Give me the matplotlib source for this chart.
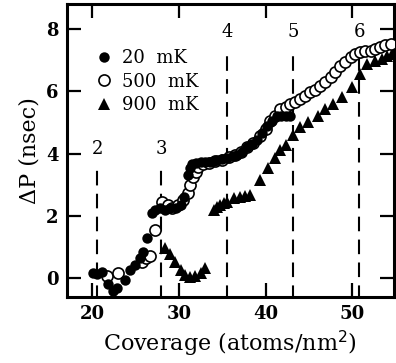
import numpy as np
import matplotlib
matplotlib.use('Agg')
import matplotlib.pyplot as plt

# 20 mK (filled circles)
x20 = [20.1, 20.6, 21.2, 21.8, 22.4, 22.9, 23.8, 24.4, 25.0, 25.5, 25.9, 26.3,
       26.9, 27.3, 27.8, 28.4, 29.0, 29.7, 30.2, 30.6, 31.0, 31.3, 31.5, 32.0,
       32.5, 33.0, 33.6, 34.0, 34.4, 35.0, 35.6, 36.2, 36.7, 37.3, 37.9, 38.4,
       39.0, 39.6, 40.2, 40.7, 41.3, 41.8, 42.3, 42.8]
y20 = [0.16, 0.13, 0.19, -0.2, -0.4, -0.3, -0.06, 0.26, 0.42, 0.65, 0.84, 1.3,
       2.1, 2.2, 2.25, 2.2, 2.25, 2.25, 2.35, 2.6, 3.3, 3.55, 3.65, 3.7,
       3.74, 3.72, 3.74, 3.76, 3.8, 3.83, 3.87, 3.92, 3.97, 4.05, 4.2, 4.3,
       4.45, 4.65, 4.87, 5.05, 5.2, 5.22, 5.2, 5.2]

# 500 mK (open circles)
x500 = [21.7, 23.0, 25.8, 26.2, 26.7, 27.3, 28.1, 28.7, 29.2, 29.9, 30.5, 31.0,
        31.3, 31.6, 32.0, 32.2, 32.8, 33.5, 34.2, 35.0, 35.8, 36.5, 37.2, 37.9,
        38.6, 39.3, 40.0, 40.5, 41.1, 41.7, 42.3, 42.8, 43.4, 44.0, 44.5, 45.1,
        45.7, 46.3, 46.9, 47.5, 48.0, 48.6, 49.2, 49.8, 50.3, 50.9, 51.5, 52.1,
        52.6, 53.2, 53.8, 54.4]
y500 = [0.06, 0.16, 0.52, 0.65, 0.7, 1.55, 2.45, 2.35, 2.25, 2.35, 2.5, 2.75,
        3.0, 3.25, 3.4, 3.58, 3.65, 3.7, 3.75, 3.8, 3.88, 3.95, 4.05, 4.2,
        4.35, 4.55, 4.8, 5.05, 5.2, 5.42, 5.5, 5.58, 5.66, 5.74, 5.85, 5.97,
        6.05, 6.16, 6.3, 6.45, 6.62, 6.8, 6.95, 7.1, 7.2, 7.26, 7.28, 7.29,
        7.36, 7.42, 7.47, 7.52]

# 900 mK (triangles)
x900 = [28.4, 29.0, 29.6, 30.2, 30.7, 31.3, 31.9, 32.5, 33.0,
        34.0, 34.4, 34.8, 35.2, 35.6, 36.3, 37.1, 37.6, 38.2, 39.4,
        40.3, 41.1, 41.7, 42.3, 43.1, 44.0, 44.9, 46.0, 46.9, 47.8, 48.8,
        50.0, 50.9, 51.7, 52.6, 53.4, 54.0, 54.6]
y900 = [0.97, 0.77, 0.52, 0.26, 0.1, 0.03, 0.06, 0.16, 0.32,
        2.2, 2.3, 2.35, 2.4, 2.45, 2.58, 2.6, 2.64, 2.68, 3.16,
        3.55, 3.87, 4.13, 4.29, 4.6, 4.84, 5.0, 5.2, 5.42, 5.58, 5.8,
        6.13, 6.55, 6.87, 6.97, 7.05, 7.13, 7.2]

# layer boundaries
layer_x = [20.6, 28.0, 35.6, 43.2, 50.8]
layer_lbl = ['2', '3', '4', '5', '6']
layer_top = [3.65, 3.65, 7.4, 7.4, 7.4]

plt.rcParams['font.family'] = 'DejaVu Serif'

fig = plt.figure(figsize=(3.96, 3.63), dpi=100)
ax = fig.add_axes([0.169, 0.182, 0.826, 0.807])

for xv, lb, top in zip(layer_x, layer_lbl, layer_top):
    ax.plot([xv, xv], [-0.7, top], color='black', lw=1.5, dashes=(7, 4))
    ax.text(xv, top + 0.5, lb, ha='center', va='center', fontsize=13)

ax.plot(x900, y900, '^', color='black', ms=8, mew=0, label='900  mK', zorder=3)
ax.plot(x500, y500, 'o', mfc='white', mec='black', ms=8, mew=1.2,
        label='500  mK', zorder=4)
ax.plot(x20, y20, 'o', color='black', ms=7.5, mew=0, label='20  mK', zorder=5)

h, l = ax.get_legend_handles_labels()
leg = ax.legend(h[::-1], l[::-1], loc='upper left', bbox_to_anchor=(0.07, 0.87),
                frameon=False, fontsize=13, handlelength=0.8, handletextpad=0.6,
                labelspacing=0.3, borderaxespad=0)

ax.set_xlim(17.1, 54.8)
ax.set_ylim(-0.6, 8.8)
ax.set_xticks([20, 30, 40, 50])
ax.set_yticks([0, 2, 4, 6, 8])
ax.tick_params(direction='in', length=10, width=1.6, top=True, right=True,
               labelsize=13, pad=6)
for t in ax.get_xticklabels() + ax.get_yticklabels():
    t.set_fontweight('bold')
for s in ax.spines.values():
    s.set_linewidth(2.2)

ax.set_xlabel('Coverage (atoms/nm$^2$)', fontsize=16, labelpad=4)
ax.set_ylabel('ΔP (nsec)', fontsize=16, labelpad=4)

fig.savefig('out.png', dpi=100)
